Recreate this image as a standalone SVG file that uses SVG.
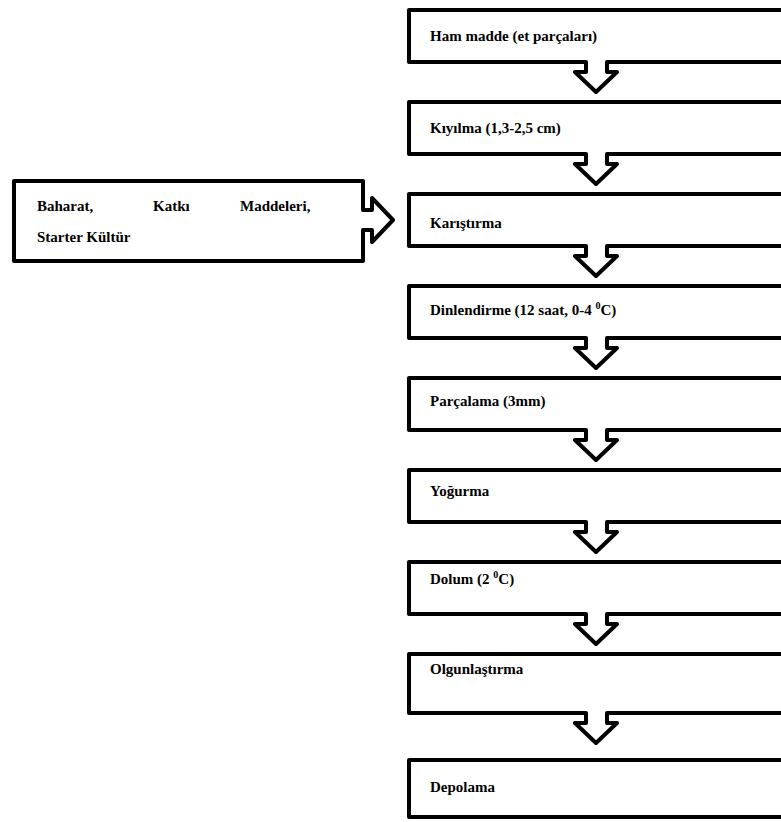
<svg xmlns="http://www.w3.org/2000/svg" width="781" height="822" viewBox="0 0 781 822">
<style>
.box{fill:#fff;stroke:#000;stroke-width:4;stroke-linejoin:round}
.t{font-family:"Liberation Serif","Times New Roman",serif;font-weight:bold;font-size:15px;fill:#000}
.sup{font-size:10px}
</style>
<rect width="781" height="822" fill="#fff"/>
<g id="connectors"></g>
<g id="n1"><path class="box" d="M409,10 H800 V62 H607 V72 H617 L596,92 L575,72 H586 V62 H409 Z"/><text class="t" x="430" y="41">Ham madde (et parçaları)</text></g>
<g id="n2"><path class="box" d="M409,102 H800 V154 H607 V164 H617 L596,184 L575,164 H586 V154 H409 Z"/><text class="t" x="430" y="133">Kıyılma (1,3-2,5 cm)</text></g>
<g id="n3"><path class="box" d="M409,194 H800 V246 H607 V256 H617 L596,276 L575,256 H586 V246 H409 Z"/><text class="t" x="430" y="228">Karıştırma</text></g>
<g id="n4"><path class="box" d="M409,286 H800 V338 H607 V348 H617 L596,368 L575,348 H586 V338 H409 Z"/><text class="t" x="430" y="315">Dinlendirme (12 saat, 0-4 <tspan class="sup" dy="-6">0</tspan><tspan dy="6">C)</tspan></text></g>
<g id="n5"><path class="box" d="M409,378 H800 V430 H607 V440 H617 L596,460 L575,440 H586 V430 H409 Z"/><text class="t" x="430" y="406">Parçalama (3mm)</text></g>
<g id="n6"><path class="box" d="M409,470 H800 V522 H607 V532 H617 L596,552 L575,532 H586 V522 H409 Z"/><text class="t" x="430" y="496">Yoğurma</text></g>
<g id="n7"><path class="box" d="M409,562 H800 V614 H607 V624 H617 L596,644 L575,624 H586 V614 H409 Z"/><text class="t" x="430" y="584">Dolum (2 <tspan class="sup" dy="-6">0</tspan><tspan dy="6">C)</tspan></text></g>
<g id="n8"><path class="box" d="M409,654 H800 V713 H607 V723 H617 L596,743 L575,723 H586 V713 H409 Z"/><text class="t" x="430" y="674">Olgunlaştırma</text></g>
<g id="n9"><rect class="box" x="409" y="760" width="391" height="57"/><text class="t" x="430" y="792">Depolama</text></g>
<g id="n0"><path class="box" d="M14,181 H363 V210 H372 V198 L393,220 L372,242 V230 H363 V261 H14 Z"/><text class="t" y="211"><tspan x="37">Baharat,</tspan><tspan x="153">Katkı</tspan><tspan x="240">Maddeleri,</tspan></text><text class="t" x="37" y="242">Starter Kültür</text></g>
</svg>
